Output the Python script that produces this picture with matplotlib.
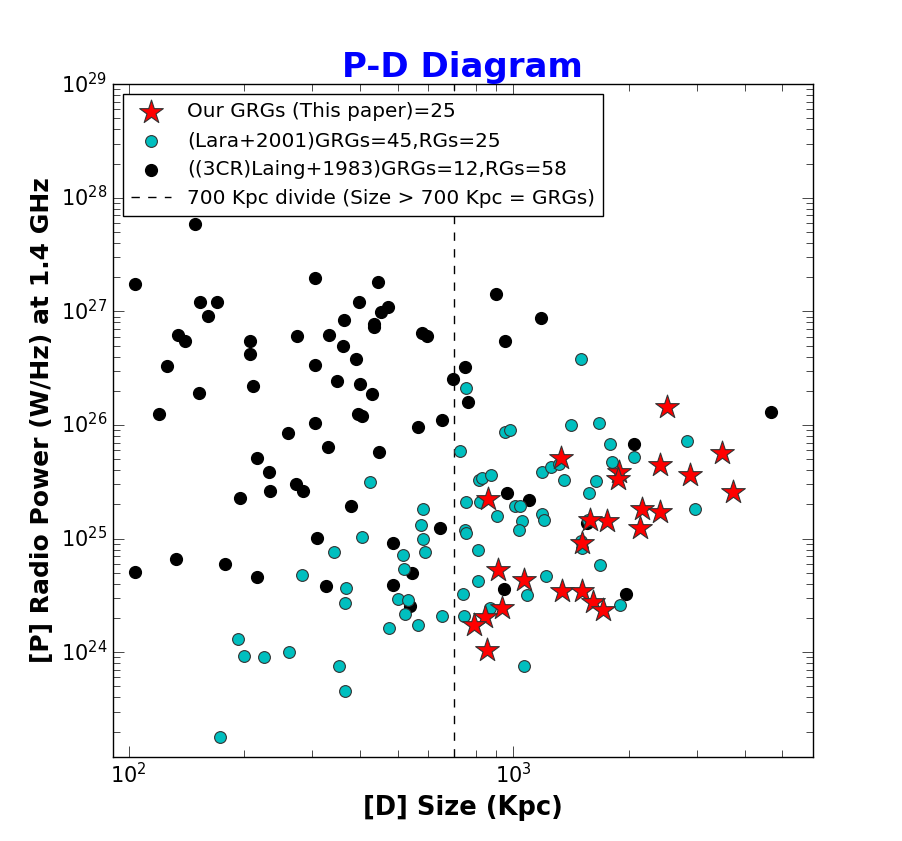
import numpy as np
import matplotlib
matplotlib.use('Agg')
from matplotlib import pyplot as plt

# Our GRGs (this paper): size in Kpc, radio power in W/Hz
grg_size = [2506, 1332, 1882, 1871, 2403, 2874, 3479, 3715, 2159, 2403,
            2133, 1752, 1583, 1510, 1340, 1510, 1612, 1711, 861, 915,
            1068, 937, 846, 788, 856]
grg_power = [1.43e26, 5.09e25, 3.83e25, 3.32e25, 4.41e25, 3.60e25, 5.63e25, 2.55e25, 1.84e25, 1.70e25,
             1.23e25, 1.42e25, 1.47e25, 9.24e24, 3.49e24, 3.49e24, 2.79e24, 2.37e24, 2.21e25, 5.34e24,
             4.36e24, 2.47e24, 2.06e24, 1.75e24, 1.05e24]

# Lara+2001
lara_size = [173, 193, 199, 225, 261, 282, 342, 352, 365, 367,
             365, 404, 424, 474, 501, 516, 519, 522, 531, 564,
             574, 581, 584, 591, 651, 725, 742, 746, 755, 755,
             751, 755, 807, 807, 812, 831, 872, 877, 909, 954,
             982, 1012, 1043, 1055, 1036, 1068, 1087, 1189, 1254, 1316,
             1356, 1189, 1203, 1217, 1414, 1501, 1641, 1573, 1564, 1501,
             1510, 1670, 1680, 1784, 1805, 1893, 2058, 2824, 2962, 817]
lara_power = [1.80e23, 1.32e24, 9.31e23, 9.13e23, 1.01e24, 4.83e24, 7.69e24, 7.60e23, 4.58e23, 3.71e24,
              2.73e24, 1.04e25, 3.12e25, 1.64e24, 2.96e24, 7.24e24, 5.45e24, 2.19e24, 2.90e24, 1.75e24,
              1.33e25, 1.00e25, 1.84e25, 7.69e24, 2.10e24, 5.86e25, 3.28e24, 2.10e24, 2.11e26, 2.08e25,
              1.20e25, 1.11e25, 8.01e24, 4.27e24, 3.25e25, 3.39e25, 2.47e24, 3.60e25, 1.57e25, 8.62e25,
              8.98e25, 1.92e25, 1.92e25, 1.44e25, 1.18e25, 7.60e23, 3.21e24, 3.83e25, 4.24e25, 4.50e25,
              3.25e25, 1.66e25, 1.47e25, 4.73e24, 1.01e26, 3.80e26, 3.19e25, 2.50e25, 1.47e25, 9.62e24,
              8.35e24, 1.04e26, 5.91e24, 6.76e25, 4.69e25, 2.62e24, 5.19e25, 7.18e25, 1.84e25, 2.12e25]

# (3CR) Laing+1983
laing_size = [104, 149, 120, 126, 134, 140, 152, 153, 161, 170,
              207, 207, 211, 260, 274, 305, 305, 305, 330, 332,
              348, 361, 363, 390, 394, 404, 397, 399, 429, 434,
              434, 444, 452, 472, 578, 595, 564, 651, 695, 751,
              764, 904, 954, 1182, 447, 215, 232, 233, 195, 272,
              284, 378, 309, 104, 133, 178, 216, 326, 486, 643,
              544, 486, 538, 965, 1100, 948, 1555, 2058, 1962, 4661]
laing_power = [1.74e27, 5.89e27, 1.24e26, 3.29e26, 6.18e26, 5.47e26, 1.90e26, 1.21e27, 9.09e26, 1.21e27,
               5.47e26, 4.20e26, 2.19e26, 8.45e25, 6.06e26, 1.97e27, 3.36e26, 1.04e26, 6.36e25, 6.18e26,
               2.43e26, 4.94e26, 8.38e26, 3.80e26, 1.24e26, 1.19e26, 1.21e27, 2.28e26, 1.87e26, 7.73e26,
               7.27e26, 1.81e27, 9.86e26, 1.09e27, 6.44e26, 6.06e26, 9.54e25, 1.10e26, 2.53e26, 3.23e26,
               1.59e26, 1.42e27, 5.47e26, 8.73e26, 5.74e25, 5.09e25, 3.83e25, 2.60e25, 2.26e25, 3.00e25,
               2.60e25, 1.92e25, 1.02e25, 5.13e24, 6.67e24, 6.03e24, 4.63e24, 3.86e24, 9.24e24, 1.23e25,
               5.02e24, 3.94e24, 2.57e24, 2.50e25, 2.17e25, 3.63e24, 1.36e25, 6.76e25, 3.28e24, 1.29e26]

divide = 700

plt.style.use('classic')
fig = plt.figure(figsize=(9.03, 8.41), dpi=100, facecolor='white')
ax = fig.add_subplot(111)

ax.scatter(grg_size, grg_power, marker='*', s=320, c='r', edgecolors='#333333', linewidths=0.8,
           zorder=4, label='Our GRGs (This paper)=25')
ax.scatter(lara_size, lara_power, marker='o', s=72, c='c', edgecolors='#333333', linewidths=0.8,
           zorder=3, label='(Lara+2001)GRGs=45,RGs=25')
ax.scatter(laing_size, laing_power, marker='o', s=72, c='k', edgecolors='k',
           zorder=2, label='((3CR)Laing+1983)GRGs=12,RGs=58')
ax.axvline(divide, color='k', linestyle='--', linewidth=1, zorder=1,
           label='700 Kpc divide (Size > 700 Kpc = GRGs)')

ax.set_xscale('log')
ax.set_yscale('log')
ax.set_xlim(91, 6000)
ax.set_ylim(1.2e23, 1e29)

ax.tick_params(which='major', length=8, labelsize=15)
ax.tick_params(which='minor', length=5)

ax.set_title('P-D Diagram', color='blue', fontsize=24.5, fontweight='bold')
ax.set_xlabel('[D] Size (Kpc)', fontsize=18.5, fontweight='bold')
ax.set_ylabel('[P] Radio Power (W/Hz) at 1.4 GHz', fontsize=18, fontweight='bold')

leg = ax.legend(loc='upper left', scatterpoints=1, numpoints=1, fontsize=14.4, frameon=True)
leg.get_frame().set_edgecolor('k')

fig.savefig('out.png', dpi=100, facecolor='white')
